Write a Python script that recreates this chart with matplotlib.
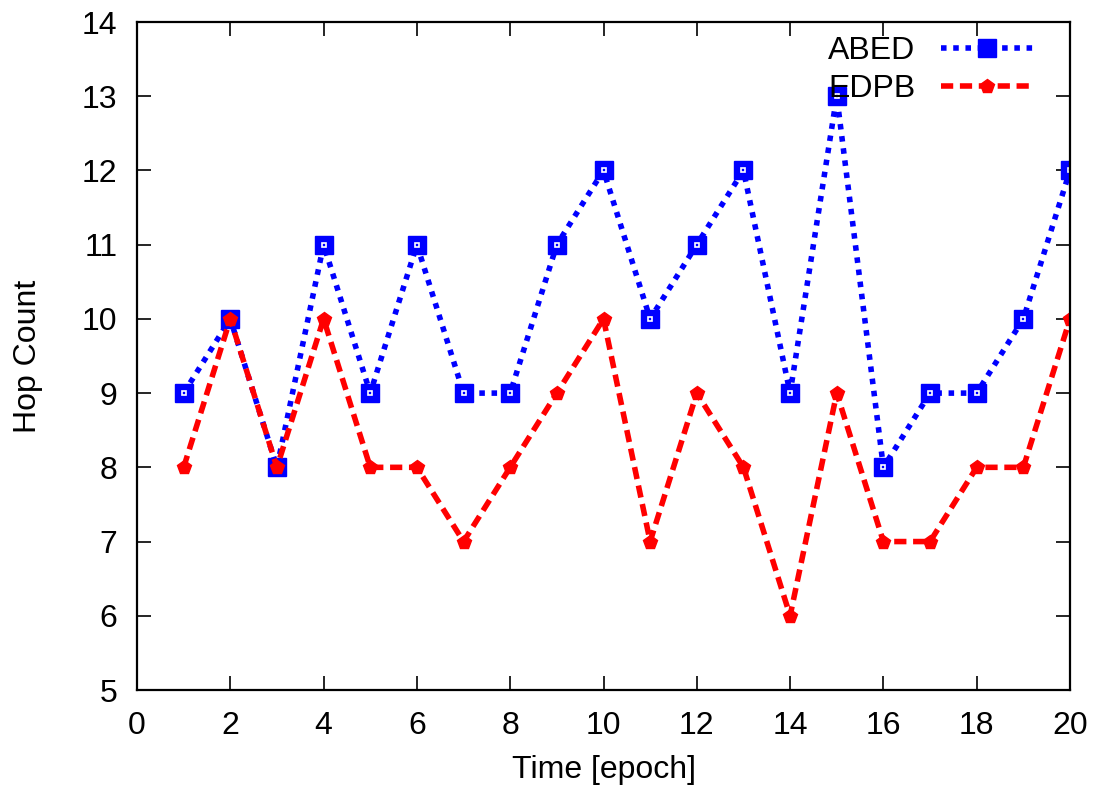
import numpy as np
import matplotlib.pyplot as plt

plt.rcParams['font.family'] = ['Liberation Sans', 'DejaVu Sans']

epochs = list(range(1, 21))
abed = [9, 10, 8, 11, 9, 11, 9, 9, 11, 12, 10, 11, 12, 9, 13, 8, 9, 9, 10, 12]
edpb = [8, 10, 8, 10, 8, 8, 7, 8, 9, 10, 7, 9, 8, 6, 9, 7, 7, 8, 8, 10]

fig = plt.figure(figsize=(11.02, 7.91), dpi=100)
ax = fig.add_axes([137/1102, 1 - 690/791, (1070-137)/1102, (690-22)/791])

ax.plot(epochs, abed, color='#0000ff', linestyle=(0, (1, 1.2)), linewidth=4,
        marker='s', markersize=13.5, markerfacecolor='#0000ff', markeredgecolor='#0000ff',
        label='ABED')
ax.plot(epochs, abed, linestyle='none', marker='s', markersize=3.5,
        markerfacecolor='none', markeredgecolor='white', markeredgewidth=1.2)
ax.plot(epochs, edpb, color='#ff0000', linestyle=(0, (2.2, 1.2)), linewidth=4,
        marker='p', markersize=10, markerfacecolor='#ff0000', markeredgecolor='#ff0000',
        label='EDPB')

ax.set_xlim(0, 20)
ax.set_ylim(5, 14)
ax.set_xticks(range(0, 21, 2))
ax.set_yticks(range(5, 15))
ax.tick_params(direction='in', top=True, right=True, labelsize=23, length=10, width=1.2)
ax.tick_params(axis='y', pad=14)
ax.tick_params(axis='x', pad=15)
for s in ax.spines.values():
    s.set_linewidth(1.6)
ax.set_xlabel('Time [epoch]', fontsize=23, labelpad=10)
ax.set_ylabel('Hop Count', fontsize=23, labelpad=28)

ax.legend(loc='upper right', frameon=False, markerfirst=False, fontsize=23,
          numpoints=1, handlelength=2.9, borderaxespad=0.1, labelspacing=0.25,
          handletextpad=0.8, bbox_to_anchor=(0.978, 1.003))

fig.savefig('out.png', dpi=100)
